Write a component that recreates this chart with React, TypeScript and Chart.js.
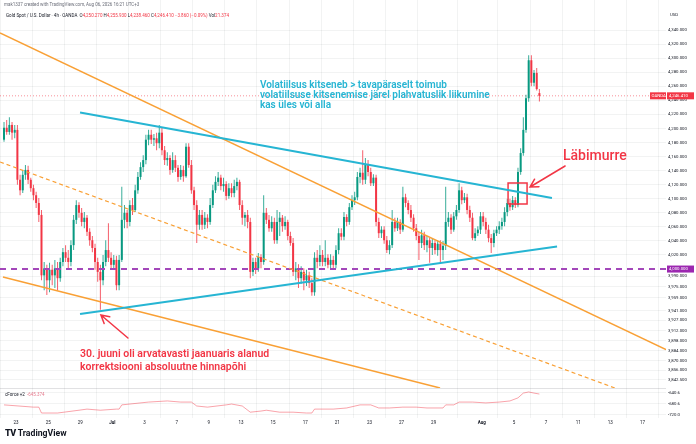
import React, { useEffect, useRef } from 'react';
import { Chart, registerables } from 'chart.js';

Chart.register(...registerables);

// ---------------- data ----------------
const BARS_PER_DAY = 6; // 4h bars per trading day
const FIRST_BAR = 1; // first visible bar (index within Jun 22 session)

// 4h candles [open, high, low, close], Gold Spot / USD (OANDA)
const candles: number[][] = [
  [4184, 4209, 4181, 4201], [4201, 4212, 4191, 4195], [4195, 4216, 4191, 4205], [4205, 4209, 4184, 4194],
  [4194, 4205, 4186, 4198], [4198, 4205, 4120, 4127], [4127, 4134, 4105, 4112], [4112, 4141, 4108, 4134],
  [4134, 4148, 4127, 4141], [4141, 4147, 4121, 4127], [4127, 4130, 4110, 4115], [4115, 4120, 4098, 4105],
  [4105, 4110, 4087, 4094], [4094, 4101, 4067, 4077], [4077, 4084, 3984, 3991], [3991, 4010, 3970, 4001],
  [4001, 4006, 3963, 3984], [3984, 4009, 3967, 3999], [3999, 4006, 3977, 3991], [3991, 4013, 3973, 4001],
  [4001, 4010, 3970, 3987], [3987, 4016, 3982, 4010], [4010, 4030, 4004, 4024], [4024, 4034, 4010, 4016],
  [4016, 4027, 3999, 4010], [4010, 4041, 4004, 4034], [4034, 4077, 4027, 4070], [4070, 4098, 4064, 4091],
  [4091, 4095, 4073, 4080], [4080, 4087, 4061, 4067], [4067, 4081, 4058, 4073], [4073, 4077, 4047, 4053],
  [4053, 4058, 4033, 4041], [4041, 4047, 4024, 4030], [4030, 4036, 3999, 4010], [4010, 4016, 3982, 3996],
  [3996, 4006, 3942, 3984], [3984, 4020, 3977, 4010], [4010, 4041, 4004, 4027], [4027, 4065, 4010, 4016],
  [4016, 4024, 3999, 4006], [4006, 4020, 3999, 4013], [4013, 4019, 3970, 3977], [3977, 4020, 3970, 4013],
  [4013, 4117, 4010, 4070], [4070, 4091, 4058, 4080], [4080, 4084, 4058, 4067], [4067, 4098, 4061, 4091],
  [4091, 4101, 4077, 4084], [4084, 4120, 4081, 4112], [4112, 4138, 4107, 4131], [4131, 4152, 4127, 4145],
  [4145, 4162, 4138, 4155], [4155, 4191, 4149, 4184], [4184, 4198, 4176, 4191], [4191, 4198, 4178, 4184],
  [4184, 4192, 4175, 4186], [4186, 4194, 4169, 4179], [4179, 4205, 4172, 4194], [4194, 4201, 4162, 4169],
  [4169, 4175, 4148, 4155], [4155, 4166, 4147, 4158], [4158, 4162, 4134, 4141], [4141, 4166, 4137, 4155],
  [4155, 4162, 4138, 4144], [4144, 4148, 4124, 4131], [4131, 4148, 4127, 4141], [4141, 4147, 4124, 4132],
  [4132, 4179, 4130, 4174], [4174, 4179, 4144, 4148], [4148, 4155, 4107, 4112], [4112, 4117, 4084, 4091],
  [4091, 4098, 4037, 4063], [4063, 4084, 4056, 4077], [4077, 4084, 4056, 4063], [4063, 4081, 4057, 4073],
  [4073, 4078, 4058, 4067], [4067, 4101, 4063, 4091], [4091, 4120, 4087, 4112], [4112, 4132, 4108, 4124],
  [4124, 4138, 4118, 4130], [4130, 4134, 4112, 4118], [4118, 4130, 4110, 4121], [4121, 4125, 4098, 4104],
  [4104, 4122, 4100, 4115], [4115, 4122, 4102, 4108], [4108, 4127, 4102, 4118], [4118, 4130, 4112, 4124],
  [4124, 4127, 4084, 4091], [4091, 4098, 4063, 4073], [4073, 4081, 4061, 4077], [4077, 4084, 4058, 4067],
  [4067, 4073, 3987, 3996], [3996, 4016, 3990, 4010], [4010, 4016, 3993, 4001], [4001, 4023, 3996, 4017],
  [4017, 4021, 4001, 4010], [4010, 4105, 4006, 4080], [4080, 4087, 4064, 4070], [4070, 4077, 4053, 4058],
  [4058, 4075, 4053, 4067], [4067, 4073, 4036, 4041], [4041, 4084, 4036, 4067], [4067, 4081, 4047, 4073],
  [4073, 4077, 4053, 4061], [4061, 4075, 4056, 4067], [4067, 4070, 4041, 4047], [4047, 4053, 4033, 4037],
  [4037, 4044, 3990, 3996], [3996, 4010, 3984, 4001], [4001, 4007, 3973, 3987], [3987, 4004, 3979, 3996],
  [3996, 4001, 3970, 3984], [3984, 3999, 3976, 3991], [3991, 3996, 3973, 3980], [3980, 3987, 3962, 3967],
  [3967, 4024, 3962, 4016], [4016, 4027, 4001, 4010], [4010, 4034, 4004, 4020], [4020, 4027, 4004, 4010],
  [4010, 4041, 4004, 4016], [4016, 4021, 4001, 4006], [4006, 4021, 4001, 4013], [4013, 4019, 3999, 4006],
  [4006, 4034, 4001, 4027], [4027, 4058, 4021, 4051], [4051, 4058, 4041, 4046], [4046, 4081, 4041, 4074],
  [4074, 4078, 4061, 4067], [4067, 4094, 4063, 4088], [4088, 4105, 4084, 4098], [4098, 4110, 4091, 4102],
  [4102, 4138, 4098, 4131], [4131, 4144, 4122, 4137], [4137, 4169, 4120, 4127], [4127, 4158, 4121, 4148],
  [4148, 4155, 4132, 4138], [4138, 4144, 4118, 4122], [4122, 4135, 4118, 4130], [4130, 4134, 4061, 4067],
  [4067, 4073, 4044, 4051], [4051, 4061, 4044, 4056], [4056, 4061, 4036, 4041], [4041, 4047, 4023, 4027],
  [4027, 4041, 4021, 4034], [4034, 4084, 4030, 4067], [4067, 4073, 4053, 4058], [4058, 4073, 4054, 4067],
  [4067, 4071, 4050, 4056], [4056, 4117, 4053, 4102], [4102, 4107, 4088, 4094], [4094, 4098, 4078, 4084],
  [4084, 4091, 4067, 4073], [4073, 4078, 4053, 4058], [4058, 4064, 4041, 4047], [4047, 4053, 4013, 4037],
  [4037, 4056, 4030, 4048], [4048, 4053, 4027, 4034], [4034, 4047, 4024, 4041], [4041, 4044, 4009, 4030],
  [4030, 4044, 4020, 4037], [4037, 4041, 4021, 4027], [4027, 4041, 4019, 4036], [4036, 4041, 4010, 4027],
  [4027, 4040, 4013, 4033], [4033, 4117, 4027, 4067], [4067, 4081, 4060, 4073], [4073, 4078, 4050, 4056],
  [4056, 4081, 4053, 4075], [4075, 4091, 4070, 4084], [4084, 4122, 4080, 4112], [4112, 4117, 4092, 4098],
  [4098, 4108, 4094, 4102], [4102, 4107, 4078, 4084], [4084, 4090, 4067, 4073], [4073, 4080, 4041, 4044],
  [4044, 4058, 4040, 4051], [4051, 4061, 4047, 4056], [4056, 4081, 4050, 4075], [4075, 4081, 4061, 4067],
  [4067, 4073, 4050, 4056], [4056, 4063, 4038, 4044], [4044, 4050, 4023, 4037], [4037, 4056, 4031, 4051],
  [4051, 4061, 4047, 4056], [4056, 4068, 4050, 4061], [4061, 4073, 4056, 4067], [4067, 4088, 4061, 4081],
  [4081, 4100, 4075, 4094], [4094, 4100, 4083, 4088], [4088, 4104, 4084, 4098], [4098, 4102, 4087, 4091],
  [4091, 4144, 4088, 4138], [4138, 4172, 4134, 4165], [4165, 4216, 4161, 4198], [4198, 4248, 4194, 4243],
  [4243, 4304, 4238, 4297], [4297, 4304, 4260, 4265], [4265, 4283, 4260, 4279], [4279, 4286, 4254, 4256],
  [4250.27, 4255.93, 4238.46, 4246.41],
];

// oscillator ("cForce +2") read at selected bars
const oscBars = [1, 12, 14, 15, 21, 29, 32, 37, 43, 44, 45, 55, 62, 67, 71, 73, 77, 84, 86, 90, 93, 97, 99, 104, 109,
  114, 116, 117, 124, 129, 134, 138, 141, 145, 150, 155, 159, 165, 166, 169, 171, 176, 181, 186, 190, 193, 195, 197, 199, 201];
const oscValues = [-684, -692, -692, -713, -713, -703, -699, -703, -699, -699, -684, -674, -670, -674, -674, -688, -692,
  -684, -681, -688, -710, -706, -703, -710, -710, -713, -713, -699, -699, -695, -684, -684, -695, -695, -692, -692,
  -695, -695, -684, -684, -674, -674, -677, -674, -670, -659, -642, -638, -642, -645.374];

// date axis: labels and trading-day number (0 = Jun 22)
const dateLabels = ['23', '25', '29', 'Jul', '3', '7', '9', '13', '15', '17', '21', '23', '27', '29', 'Aug', '5', '7', '11', '13', '17'];
const dateDays = [1, 3, 5, 7, 9, 11, 13, 15, 17, 19, 21, 23, 25, 27, 30, 32, 34, 36, 38, 40];

const priceTicks = [4340, 4320, 4300, 4280, 4260, 4240, 4220, 4200, 4180, 4160, 4140, 4120, 4100, 4080, 4060, 4040, 4020,
  3990, 3975, 3959, 3941, 3927, 3912, 3898, 3884, 3870, 3856, 3842.5];
const oscTicks = [-640.6, -680.6, -720.0];

const lastPrice = 4246.41;
const levelPrice = 4000;
const oscLast = '-645.374';

// drawings: [bar, price] anchors
const orangeUpper = [[0, 4336], [248.8, 3885.3]];
const orangeLower = [[1.1, 3988.6], [164.4, 3830.8]];
const orangeDashed = [[0, 4152.3], [229.7, 3830.8]];
const cyanUpper = [[29.9, 4222.7], [206.2, 4101.0]];
const cyanLower = [[29.9, 3936.0], [208.1, 4032.1]];
const breakoutBox = [[189.8, 4092.5], [196.9, 4092.5], [196.9, 4122.4], [189.8, 4122.4], [189.8, 4092.5]];
const breakoutArrow = [[211.1, 4146.6], [198.0, 4116.7]];
const lowArrow = [[47.8, 3901.9], [37.7, 3934.6]];

const cyanNote = ['Volatiilsus kitseneb > tavapäraselt toimub', 'volatiilsuse kitsenemise järel plahvatuslik liikumine', 'kas üles või alla'];
const cyanNoteAt = [97.1, 4260.4];
const breakoutLabel = 'Läbimurre';
const breakoutLabelAt = [210.3, 4160.8];
const redNote = ['30. juuni oli arvatavasti jaanuaris alanud', 'korrektsiooni absoluutne hinnapõhi'];
const redNoteAt = [29.9, 3879];

// axis ranges
const X_MAX = 248.8;
const PRICE_MIN = 3830.8;
const PRICE_MAX = 4382.7;
const OSC_MIN = -730.7;
const OSC_MAX = -623.9;

// ---------------- style ----------------
const FONT = 'Roboto, "Liberation Sans", sans-serif';
const UP = '#089981';
const DOWN = '#f23645';
const RED = '#f23645';
const CYAN = '#26b5d3';
const ORANGE = '#f9a035';
const PURPLE = '#a347ba';
const GRID = 'rgba(42,46,57,0.06)';
const TEXT = '#131722';

const fmt3 = (v: number) => Number(v).toLocaleString('en-US', { minimumFractionDigits: 3, maximumFractionDigits: 3 });

function arrowTo(ctx: CanvasRenderingContext2D, x1: number, y1: number, x2: number, y2: number, color: string, w: number) {
  const a = Math.atan2(y2 - y1, x2 - x1);
  const L = 9;
  ctx.strokeStyle = color;
  ctx.lineWidth = w;
  ctx.lineCap = 'round';
  ctx.beginPath();
  ctx.moveTo(x1, y1);
  ctx.lineTo(x2, y2);
  ctx.moveTo(x2 - L * Math.cos(a - 0.5), y2 - L * Math.sin(a - 0.5));
  ctx.lineTo(x2, y2);
  ctx.lineTo(x2 - L * Math.cos(a + 0.5), y2 - L * Math.sin(a + 0.5));
  ctx.stroke();
}

const overlayPlugin = {
  id: 'overlay',
  afterDatasetsDraw(chart: any) {
    const { ctx, scales } = chart;
    const x = scales.x;
    const y = scales.y;
    const px = (v: number) => x.getPixelForValue(v);
    const py = (v: number) => y.getPixelForValue(v);
    ctx.save();
    ctx.beginPath();
    ctx.rect(x.left, y.top, x.right - x.left, y.bottom - y.top);
    ctx.clip();

    arrowTo(ctx, px(breakoutArrow[0][0]), py(breakoutArrow[0][1]), px(breakoutArrow[1][0]), py(breakoutArrow[1][1]), RED, 1.5);
    arrowTo(ctx, px(lowArrow[0][0]), py(lowArrow[0][1]), px(lowArrow[1][0]), py(lowArrow[1][1]), RED, 1.5);

    ctx.textAlign = 'left';
    ctx.textBaseline = 'middle';
    ctx.fillStyle = CYAN;
    ctx.font = `600 10px ${FONT}`;
    cyanNote.forEach((t, k) => ctx.fillText(t, px(cyanNoteAt[0]), py(cyanNoteAt[1]) + k * 10));

    ctx.fillStyle = RED;
    ctx.font = `500 14px ${FONT}`;
    ctx.fillText(breakoutLabel, px(breakoutLabelAt[0]), py(breakoutLabelAt[1]));

    ctx.font = `600 10.5px ${FONT}`;
    redNote.forEach((t, k) => ctx.fillText(t, px(redNoteAt[0]), py(redNoteAt[1]) + k * 13));
    ctx.restore();
  },
  afterDraw(chart: any) {
    const { ctx, scales } = chart;
    const x = scales.x;
    const y = scales.y;
    ctx.save();
    // pane separators
    ctx.strokeStyle = 'rgba(42,46,57,0.14)';
    ctx.lineWidth = 1;
    ctx.beginPath();
    ctx.moveTo(0, Math.round(y.bottom) + 0.5);
    ctx.lineTo(x.right, Math.round(y.bottom) + 0.5);
    ctx.stroke();

    ctx.font = `4.3px ${FONT}`;
    ctx.textBaseline = 'middle';
    ctx.textAlign = 'left';
    // level label
    const yl = y.getPixelForValue(levelPrice);
    ctx.fillStyle = '#9c27b0';
    ctx.fillRect(x.right + 1, yl - 3.5, 27, 7);
    ctx.fillStyle = '#fff';
    ctx.fillText(fmt3(levelPrice), x.right + 3, yl);
    // last price label
    const yp = y.getPixelForValue(lastPrice);
    ctx.fillStyle = RED;
    ctx.fillRect(x.right - 16, yp - 3.5, 16, 7);
    ctx.fillRect(x.right + 1, yp - 3.5, 27, 7);
    ctx.fillStyle = '#fff';
    ctx.fillText('OANDA', x.right - 14.5, yp);
    ctx.fillText(fmt3(lastPrice), x.right + 3, yp);
    // currency
    ctx.fillStyle = TEXT;
    ctx.fillText('USD', x.right + 4, 15);
    ctx.restore();
  },
};

export default function App() {
  const ref = useRef<HTMLCanvasElement>(null);

  useEffect(() => {
    const canvas = ref.current;
    if (!canvas) return;
    const xs = candles.map((_, k) => FIRST_BAR + k + 0.5);
    const isUp = candles.map((c) => c[3] >= c[0]);
    const seg = (pts: number[][]) => pts.map((p) => ({ x: p[0], y: p[1] }));
    const line = (pts: number[][], color: string, width: number, dash: number[], order: number) => ({
      type: 'line' as const,
      data: seg(pts),
      borderColor: color,
      borderWidth: width,
      borderDash: dash,
      pointRadius: 0,
      fill: false,
      tension: 0,
      yAxisID: 'y',
      order,
    });

    const chart = new Chart(canvas, {
      type: 'bar',
      data: {
        datasets: [
          line([[0, lastPrice], [X_MAX, lastPrice]], 'rgba(242,54,69,0.55)', 1, [1, 2], 6) as any,
          {
            type: 'bar',
            data: candles.map((c, k) => ({ x: xs[k], y: [c[2], c[1]] })) as any,
            backgroundColor: isUp.map((u) => (u ? 'rgba(8,153,129,0.8)' : 'rgba(242,54,69,0.8)')),
            barThickness: 1,
            grouped: false,
            inflateAmount: 0,
            borderWidth: 0,
            yAxisID: 'y',
            order: 5,
          },
          {
            type: 'bar',
            data: candles.map((c, k) => ({ x: xs[k], y: [c[0], c[3]] })) as any,
            backgroundColor: isUp.map((u) => (u ? UP : DOWN)),
            barThickness: 2,
            grouped: false,
            inflateAmount: 0,
            borderWidth: 0,
            minBarLength: 1,
            yAxisID: 'y',
            order: 4,
          },
          line([[0, levelPrice], [X_MAX, levelPrice]], PURPLE, 2, [6, 5], 3) as any,
          line(orangeUpper, ORANGE, 1.5, [], 2) as any,
          line(orangeLower, ORANGE, 1.5, [], 2) as any,
          line(orangeDashed, ORANGE, 1.2, [4, 3], 2) as any,
          line(cyanUpper, CYAN, 2, [], 1) as any,
          line(cyanLower, CYAN, 2, [], 1) as any,
          line(breakoutBox, RED, 1.5, [], 1) as any,
          {
            type: 'line',
            data: oscBars.map((b, k) => ({ x: b + 0.5, y: oscValues[k] })),
            borderColor: 'rgba(242,54,69,0.45)',
            borderWidth: 1,
            pointRadius: 0,
            fill: false,
            tension: 0,
            yAxisID: 'y2',
            order: 1,
          } as any,
        ],
      },
      options: {
        responsive: false,
        animation: false,
        events: [],
        layout: { padding: { top: 0, right: 0, bottom: 18, left: 0 } },
        plugins: { legend: { display: false }, tooltip: { enabled: false } },
        scales: {
          x: {
            type: 'linear',
            min: 0,
            max: X_MAX,
            offset: false,
            grid: { color: GRID, drawTicks: false },
            border: { display: false },
            afterBuildTicks: (s: any) => {
              s.ticks = dateDays.map((d) => ({ value: d * BARS_PER_DAY }));
            },
            afterFit: (s: any) => {
              s.height = 8;
              s.paddingLeft = 0;
              s.paddingRight = 0;
            },
            ticks: {
              autoSkip: false,
              maxRotation: 0,
              padding: 2,
              color: TEXT,
              font: (c: any) => ({ family: FONT, size: 4.5, weight: /[A-Za-z]/.test(dateLabels[c.index] || '') ? 'bold' : 'normal' }),
              callback: (_v: any, i: number) => dateLabels[i],
            },
          },
          y: {
            type: 'linear',
            position: 'right',
            stack: 'panes',
            stackWeight: 388,
            min: PRICE_MIN,
            max: PRICE_MAX,
            grid: { color: GRID, drawTicks: false },
            border: { display: false },
            afterBuildTicks: (s: any) => {
              s.ticks = priceTicks.map((v) => ({ value: v }));
            },
            afterFit: (s: any) => {
              s.width = 30;
              s.paddingTop = 0;
              s.paddingBottom = 0;
            },
            ticks: {
              autoSkip: false,
              padding: 2,
              color: TEXT,
              font: { family: FONT, size: 4.3 },
              callback: (v: any) => fmt3(Number(v)),
            },
          },
          y2: {
            type: 'linear',
            position: 'right',
            stack: 'panes',
            stackWeight: 30,
            min: OSC_MIN,
            max: OSC_MAX,
            grid: { color: GRID, drawTicks: false },
            border: { display: false },
            afterBuildTicks: (s: any) => {
              s.ticks = oscTicks.map((v) => ({ value: v }));
            },
            afterFit: (s: any) => {
              s.width = 30;
              s.paddingTop = 0;
              s.paddingBottom = 0;
            },
            ticks: {
              autoSkip: false,
              padding: 2,
              color: TEXT,
              font: { family: FONT, size: 4.3 },
              callback: (v: any) => Number(v).toFixed(1),
            },
          },
        },
      } as any,
      plugins: [overlayPlugin],
    });
    return () => chart.destroy();
  }, []);

  const tiny = (left: number, top: number, color: string, scale: number): React.CSSProperties => ({
    position: 'absolute',
    left,
    top,
    fontFamily: FONT,
    fontSize: 9,
    lineHeight: '10px',
    color,
    whiteSpace: 'nowrap',
    transform: `scale(${scale})`,
    transformOrigin: '0 0',
  });
  const v = { color: RED };

  return (
    <div style={{ position: 'fixed', left: 0, top: 0, width: 696, height: 444, background: '#fff', overflow: 'hidden' }}>
      <canvas ref={ref} width={696} height={444} style={{ position: 'absolute', left: 0, top: 0 }} />
      <div style={tiny(4, 2, '#6a6d78', 0.5)}>mak1337 created with TradingView.com, Aug 06, 2026 16:21 UTC+3</div>
      <div style={tiny(6, 13, TEXT, 0.5)}>
        Gold Spot / U.S. Dollar · 4h · OANDA&nbsp;&nbsp;O<span style={v}>4,250.270</span> H<span style={v}>4,255.930</span> L
        <span style={v}>4,238.460</span> C<span style={v}>4,246.410</span> <span style={v}>−3.860 (−0.09%)</span> Vol
        <span style={v}>21.374</span>
      </div>
      <div style={tiny(5, 391.5, TEXT, 0.5)}>
        cForce +2&nbsp;&nbsp;<span style={{ color: '#e57b8e' }}>{oscLast}</span>
      </div>
      <div style={{ position: 'absolute', left: 5, top: 427, display: 'flex', alignItems: 'center', gap: 2, color: TEXT, fontFamily: FONT, fontWeight: 'bold', lineHeight: '12px' }}>
        <span style={{ fontSize: 9, fontWeight: 900, letterSpacing: -0.5 }}>TV</span>
        <span style={{ fontSize: 8.7 }}>TradingView</span>
      </div>
    </div>
  );
}
